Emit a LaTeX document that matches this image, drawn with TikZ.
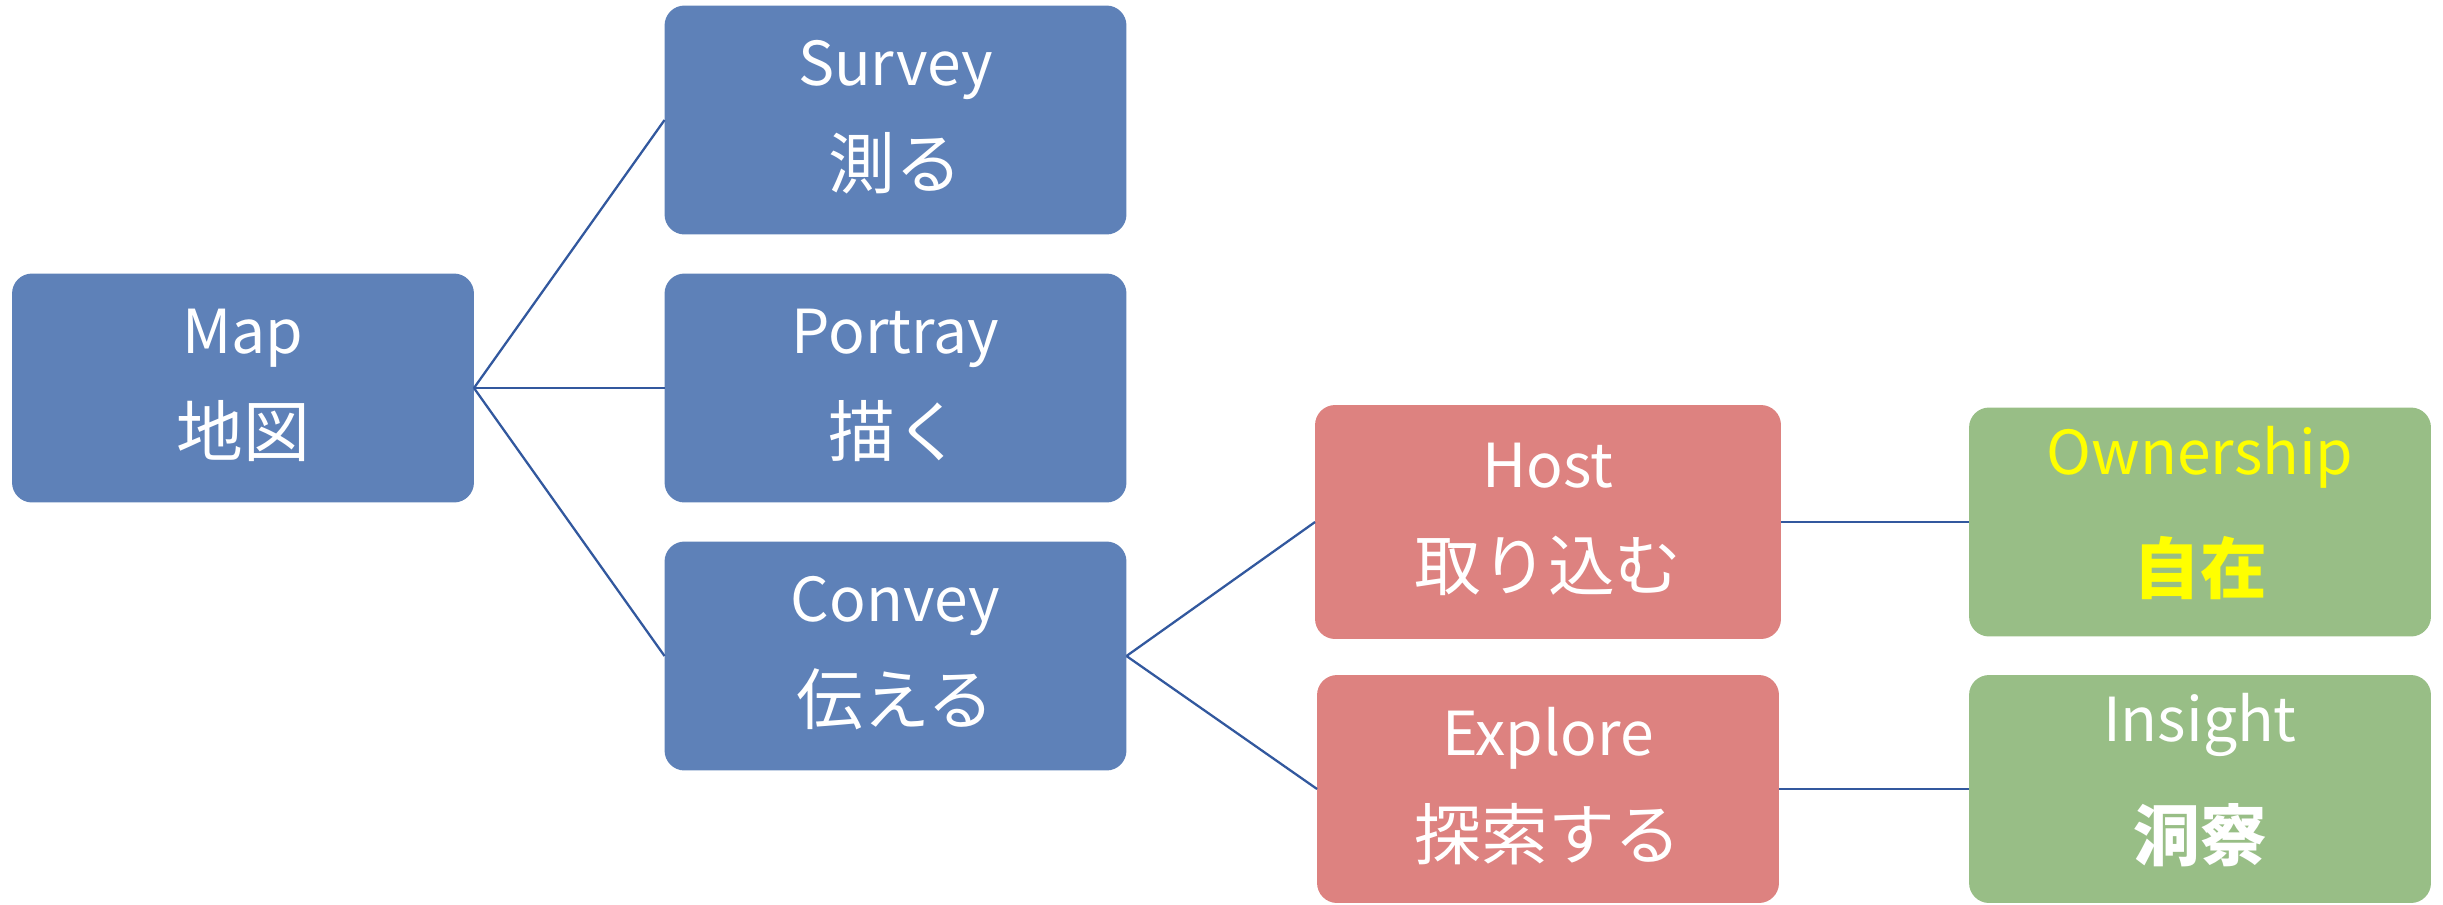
\documentclass[tikz,border=0pt]{standalone}
\usepackage{fontspec}
\setmainfont{Noto Sans CJK JP}
\usetikzlibrary{calc}
\definecolor{bluebox}{RGB}{94,129,184}
\definecolor{redbox}{RGB}{221,130,128}
\definecolor{greenbox}{RGB}{152,190,134}
\definecolor{linkcol}{RGB}{50,88,158}
\definecolor{yel}{RGB}{255,255,0}
\tikzset{
  box/.style={rounded corners=0.4cm, minimum width=9.24cm, minimum height=4.58cm, inner sep=0pt, outer sep=0pt},
  bluenode/.style={box, fill=bluebox},
  rednode/.style={box, fill=redbox},
  greennode/.style={box, fill=greenbox},
  lbl/.style={anchor=base, inner sep=0pt, text=white, font=\fontsize{34.5}{42}\selectfont},
  jlbl/.style={anchor=base, inner sep=0pt, text=white, font=\fontsize{38}{46}\selectfont},
  link/.style={draw=linkcol, line width=1.3pt}
}
\begin{document}
\begin{tikzpicture}[x=0.02cm,y=-0.02cm]
\useasboundingbox (0,0) rectangle (2443,904);
% boxes
\node[bluenode] (map) at (243,388) {};
\node[bluenode] (survey) at (895.5,120) {};
\node[bluenode] (portray) at (895.5,388) {};
\node[bluenode] (convey) at (895.5,656) {};
\node[rednode, minimum width=9.32cm, minimum height=4.68cm] (host) at (1548,522) {};
\node[rednode, minimum height=4.56cm] (explore) at (1548,789) {};
\node[greennode] (own) at (2200,522) {};
\node[greennode, minimum height=4.56cm] (insight) at (2200,789) {};
% connectors
\draw[link] (map.east) -- (survey.west);
\draw[link] (map.east) -- (portray.west);
\draw[link] (map.east) -- (convey.west);
\draw[link] (convey.east) -- (host.west);
\draw[link] (convey.east) -- (explore.west);
\draw[link] (host.east) -- (own.west);
\draw[link] (explore.east) -- (insight.west);
% labels
\node[lbl] (mapA) at ($(map.center)+(0,-35)$) {Map};
\node[jlbl] (mapB) at ($(map.center)+(0,68)$) {地図};
\node[lbl] (surA) at ($(survey.center)+(0,-35)$) {Survey};
\node[jlbl] (surB) at ($(survey.center)+(0,68)$) {測る};
\node[lbl] (porA) at ($(portray.center)+(0,-35)$) {Portray};
\node[jlbl] (porB) at ($(portray.center)+(0,68)$) {描く};
\node[lbl] (conA) at ($(convey.center)+(0,-35)$) {Convey};
\node[jlbl] (conB) at ($(convey.center)+(0,68)$) {伝える};
\node[lbl] (hostA) at ($(host.center)+(0,-35)$) {Host};
\node[jlbl] (hostB) at ($(host.center)+(0,68)$) {取り込む};
\node[lbl] (expA) at ($(explore.center)+(0,-34)$) {Explore};
\node[jlbl] (expB) at ($(explore.center)+(0,70)$) {探索する};
\node[lbl, text=yel] (ownA) at ($(own.center)+(0,-48)$) {Ownership};
\node[jlbl, text=yel, font=\fontsize{38}{46}\selectfont\bfseries] (ownB) at ($(own.center)+(0,71)$) {自在};
\node[lbl] (insA) at ($(insight.center)+(0,-48)$) {Insight};
\node[jlbl, font=\fontsize{38}{46}\selectfont\bfseries] (insB) at ($(insight.center)+(0,71)$) {洞察};
\end{tikzpicture}
\end{document}
